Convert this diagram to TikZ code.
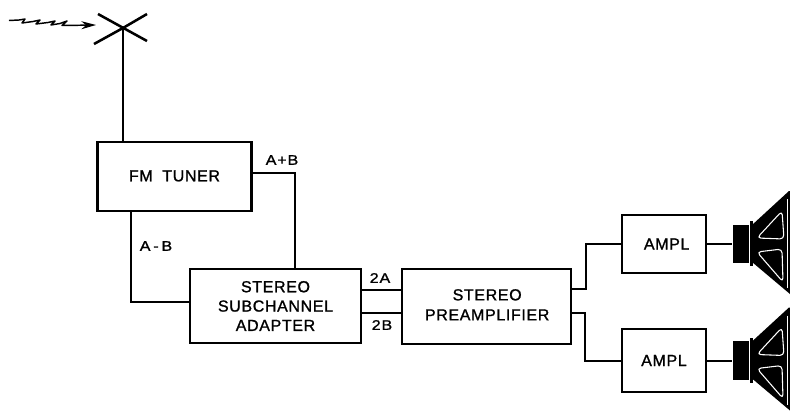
\documentclass[tikz,border=0pt]{standalone}
\usepackage{fontspec}
\setmainfont{Liberation Sans}
\newfontfamily\lblfont[LetterSpace=4,FakeBold=1.2]{Liberation Sans}
\newfontfamily\sigfont[LetterSpace=6,FakeBold=1.2,FakeStretch=1.15]{Liberation Sans}
\usetikzlibrary{arrows.meta}
\tikzset{
  x=0.75pt,y=-0.75pt,
  wire/.style={line width=1.5pt,line join=miter},
  box/.style={draw,line width=1.6pt,align=center,inner sep=0pt,font=\lblfont\fontsize{12}{14.5}\selectfont},
  sig/.style={inner sep=0pt,font=\sigfont\fontsize{10.5}{12}\selectfont},
  speaker/.pic={
    \node[fill=black,draw=none,minimum width=12.5pt,minimum height=29pt,inner sep=0pt] (-mag) at (741,0) {};
    \fill (750,-23) rectangle (752.5,22);
    \fill (752,-19) -- (789,-53) -- (790,-53) -- (790,50) -- (752,18) -- cycle;
    \draw[white,line width=0.8pt,line join=round,rounded corners=3pt] (757,-6) -- (782,-33) -- (784,-5) -- cycle;
    \draw[white,line width=0.8pt,line join=round,rounded corners=3pt] (757,8) -- (782,5) -- (783,38) -- cycle;
    \draw[white,line width=0.6pt] (787,-45) -- (787,44);
  }
}
\begin{document}
\begin{tikzpicture}
\useasboundingbox (0,0) rectangle (790,411);
% blocks
\node[box,minimum width=115.5pt,minimum height=51.5pt] (tuner) at (174.5,176.5) {\raisebox{1pt}{FM\hspace{0.6em}TUNER}};
\node[box,minimum width=128pt,minimum height=55.5pt] (adapter) at (275.5,306) {STEREO\\SUBCHANNEL\\ADAPTER};
\node[box,minimum width=126.5pt,minimum height=56pt] (preamp) at (486.5,306.5) {\raisebox{2.5pt}{\hspace{1pt}\begin{tabular}{@{}c@{}}STEREO\\[0.5pt]PREAMPLIFIER\end{tabular}}};
\node[box,minimum width=63pt,minimum height=43.5pt] (amp1) at (664,244) {\hspace{4pt}AMPL};
\node[box,minimum width=63pt,minimum height=47.5pt] (amp2) at (664,360.5) {AMPL};
% speakers
\pic (spk1) at (0,244) {speaker};
\pic (spk2) at (0,360.5) {speaker};
% antenna
\coordinate (ant) at (123,28);
\coordinate (ant1) at (98,14);
\coordinate (ant2) at (147,41);
\coordinate (ant3) at (94,44);
\coordinate (ant4) at (147,14);
\draw[line width=1.9pt] (ant1) -- (ant2);
\draw[line width=1.9pt] (ant3) -- (ant) -- (ant4);
\draw[wire] (ant) -- (ant |- tuner.north);
% incoming wave
\coordinate (wtip) at (96,25);
\draw[line width=1.1pt,line join=round,-{Stealth[length=11pt,width=6pt]}]
  (9,20.5) -- (19,20) -- (25,19) -- (22,23) -- (33,21.5) -- (40,20) -- (36,24) -- (48,22.5) -- (55,21) -- (51,25) -- (60,23.5) -- (67,21) -- (62,25.5) -- (wtip);
% connectors
\coordinate (ap) at (295,173);
\coordinate (am) at (131,302);
\coordinate (a2) at (380,290);
\coordinate (b2) at (380,313);
\coordinate (u1) at (586,289);
\coordinate (u2) at (585,313);
\draw[wire] (tuner.east |- ap) -- (ap) -- (ap |- adapter.north);
\draw[wire] (am |- tuner.south) -- (am) -- (am -| adapter.west);
\draw[wire] (adapter.east |- a2) -- (preamp.west |- a2);
\draw[wire] (adapter.east |- b2) -- (preamp.west |- b2);
\draw[wire] (preamp.east |- u1) -- (u1) -- (u1 |- amp1.west) -- (amp1.west);
\draw[wire] (preamp.east |- u2) -- (u2) -- (u2 |- amp2.west) -- (amp2.west);
\draw[wire] (amp1.east) -- (spk1-mag.west);
\draw[wire] (amp2.east) -- (spk2-mag.west);
% signal labels
\node[sig] (lap) at (282,160) {A+B};
\node[sig] (lam) at (156,246) {A\hspace{0.2em}-\hspace{0.2em}B};
\node[sig] (l2a) at (380,278) {2A};
\node[sig] (l2b) at (382,325) {2B};
\end{tikzpicture}
\end{document}
